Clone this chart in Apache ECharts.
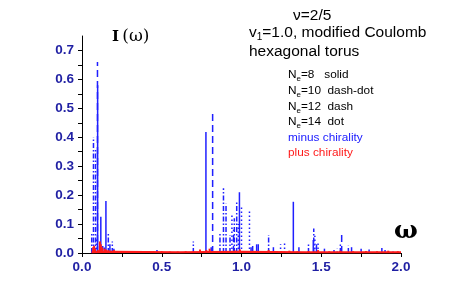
<!DOCTYPE html>
<html><head><meta charset="utf-8">
<script src="https://cdn.jsdelivr.net/npm/echarts@6/dist/echarts.min.js"></script>
<style>html,body{margin:0;padding:0;background:#fff}#c{width:467px;height:305px}</style>
</head><body><div id="c"></div>
<script>
// tick labels
const xTickLabels = [0, 0.5, 1.0, 1.5, 2.0];
const yTickLabels = [0, 0.1, 0.2, 0.3, 0.4, 0.5, 0.6, 0.7];
const yMinorTicks = [0, 0.05, 0.1, 0.15, 0.2, 0.25, 0.3, 0.35, 0.4, 0.45, 0.5, 0.55, 0.6, 0.65, 0.7];

// minus chirality (blue)
const ne8Omega  = [0.098, 0.118, 0.15, 0.175, 0.2, 0.47, 0.777, 0.987, 1.06, 1.095, 1.105, 1.325, 1.36, 1.45, 1.47, 1.52, 1.58, 1.69, 1.8, 1.9];
const ne8Minus  = [0.58, 0.125, 0.18, 0.03, 0.015, 0.01, 0.418, 0.21, 0.02, 0.03, 0.03, 0.177, 0.02, 0.045, 0.03, 0.015, 0.01, 0.02, 0.012, 0.01];
const ne10Omega = [0.061, 0.072, 0.085, 0.165, 0.19, 0.698, 0.865, 0.887, 0.903, 0.928, 0.955, 0.97, 1.17, 1.42, 1.453, 1.62, 1.67, 1.88];
const ne10Minus = [0.073, 0.40, 0.36, 0.07, 0.04, 0.04, 0.069, 0.224, 0.17, 0.062, 0.12, 0.18, 0.062, 0.03, 0.085, 0.03, 0.025, 0.02];
const ne12Omega = [0.097, 0.13, 0.81, 0.819, 0.95, 1.07, 1.2, 1.628, 1.75];
const ne12Minus = [0.66, 0.03, 0.02, 0.48, 0.08, 0.03, 0.02, 0.068, 0.015];
const ne14Omega = [0.09, 0.14, 0.94, 0.98, 1.0, 1.05, 1.245, 1.27, 1.46, 1.48, 1.6, 1.95];
const ne14Minus = [0.05, 0.02, 0.13, 0.10, 0.16, 0.148, 0.03, 0.035, 0.06, 0.04, 0.015, 0.01];

// plus chirality (red)
const plusOmega = [0.07,0.076,0.082,0.1,0.112,0.118,0.125,0.14,0.15,0.165,0.18,0.2,0.23,0.26,0.3,0.35,0.4,0.45,0.5,0.55,0.6,0.65,0.7,0.74,0.78,0.8,0.85,0.9,0.96,0.99,1.05,1.1,1.17,1.25,1.3,1.35,1.42,1.48,1.55,1.62,1.7,1.78,1.85,1.92,1.98];
const plusValue = [0.02,0.025,0.015,0.01,0.04,0.03,0.02,0.015,0.012,0.01,0.008,0.01,0.006,0.007,0.006,0.005,0.006,0.005,0.006,0.005,0.005,0.006,0.005,0.012,0.01,0.015,0.006,0.007,0.008,0.012,0.006,0.007,0.01,0.006,0.008,0.006,0.007,0.01,0.006,0.008,0.006,0.007,0.006,0.008,0.006];
const plusFloorOmega = [0.06, 0.2, 0.6, 1.0, 1.4, 2.0];
const plusFloorValue = [0.003, 0.004, 0.003, 0.004, 0.003, 0.003];

const BLUE = '#1f1fff', RED = '#ff1a1a', LABEL = '#1f1fa3';
const pairs = (xs, ys) => xs.map((x, i) => [x, ys[i]]);

function stickSeries(name, xs, ys, color, dash, width) {
  return {
    type: 'custom', name, z: name.startsWith('plus') ? 3 : 2,
    data: pairs(xs, ys),
    renderItem: (params, api) => {
      const w = api.value(0), v = api.value(1);
      const p0 = api.coord([w, 0]), p1 = api.coord([w, v]);
      return { type: 'line', shape: { x1: p0[0], y1: p0[1], x2: p1[0], y2: p1[1] },
        style: { stroke: color, lineWidth: width, lineDash: dash, fill: null } };
    }
  };
}

const chart = echarts.init(document.getElementById('c'), null, { renderer: 'canvas' });
const txt = (x, y, text, size, color, extra) => ({
  type: 'text', x, y, silent: true,
  style: Object.assign({ text, fontSize: size, fontFamily: '"Liberation Sans", Arial, sans-serif', fill: color || '#000', align: 'left', verticalAlign: 'middle' }, extra || {})
});
const legendRich = {
  a: { fontSize: 11.8, fontFamily: '"Liberation Sans", Arial, sans-serif', lineHeight: 15, fill: '#000' },
  s: { fontSize: 8, fontFamily: '"Liberation Sans", Arial, sans-serif', lineHeight: 8, verticalAlign: 'bottom', fill: '#000' }
};

chart.setOption({
  animation: false,
  backgroundColor: '#fff',
  grid: { left: 82, top: 36, width: 319, height: 217, containLabel: false },
  xAxis: {
    type: 'value', min: 0, max: 2, interval: 0.25,
    axisLine: { show: true, lineStyle: { color: '#000', width: 1 } },
    axisTick: { show: true, length: 4, lineStyle: { color: '#000' } },
    axisLabel: { margin: 7, color: LABEL, fontSize: 13.5, fontWeight: 'bold', fontFamily: '"Liberation Sans", Arial, sans-serif',
      customValues: xTickLabels, formatter: v => v.toFixed(1) },
    splitLine: { show: false }
  },
  yAxis: {
    type: 'value', min: 0, max: 0.75, interval: 0.05,
    axisLine: { show: true, lineStyle: { color: '#000', width: 1 } },
    axisTick: { show: true, length: 4, lineStyle: { color: '#000' }, customValues: yMinorTicks },
    axisLabel: { margin: 8, color: LABEL, fontSize: 13.5, fontWeight: 'bold', fontFamily: '"Liberation Sans", Arial, sans-serif',
      customValues: yTickLabels, formatter: v => v.toFixed(1) },
    splitLine: { show: false }
  },
  series: [
    stickSeries('ne8', ne8Omega, ne8Minus, BLUE, null, 1.5),
    stickSeries('ne10', ne10Omega, ne10Minus, BLUE, [5, 2, 1.5, 2], 1.5),
    stickSeries('ne12', ne12Omega, ne12Minus, BLUE, [7, 4], 1.5),
    stickSeries('ne14', ne14Omega, ne14Minus, BLUE, [1.5, 2.5], 1.5),
    stickSeries('plus', plusOmega, plusValue, RED, null, 2),
    { type: 'line', name: 'plusFloor', data: pairs(plusFloorOmega, plusFloorValue), showSymbol: false, symbol: 'none',
      lineStyle: { color: RED, width: 2 }, z: 3, silent: true }
  ],
  graphic: [
    { type: 'text', x: 112, y: 37, silent: true, style: { text: '{i|I} {w|(ω)}', verticalAlign: 'middle', align: 'left',
      rich: { i: { fontSize: 15, fontWeight: 'bold', fontFamily: '"DejaVu Serif", serif', fill: '#000' },
              w: { fontSize: 17, fontFamily: '"DejaVu Serif", serif', fill: '#000' } } } },
    { type: 'text', x: 406, y: 231, silent: true, style: { text: 'ω', fontSize: 25, fontWeight: 'bold', fontFamily: '"DejaVu Serif", serif', fill: '#000', align: 'center', verticalAlign: 'middle' } },
    txt(293, 16, 'ν=2/5', 15.5),
    { type: 'text', x: 249, y: 33, silent: true, style: { text: '{a|v}{s|1}{a|=1.0, modified Coulomb}', align: 'left', verticalAlign: 'middle',
      rich: { a: { fontSize: 15.5, fontFamily: '"Liberation Sans", Arial, sans-serif', lineHeight: 19, fill: '#000' },
              s: { fontSize: 10, fontFamily: '"Liberation Sans", Arial, sans-serif', lineHeight: 10, verticalAlign: 'bottom', fill: '#000' } } } },
    txt(249, 52, 'hexagonal torus', 15.5),
    { type: 'text', x: 288, y: 75, silent: true, style: { text: '{a|N}{s|e}{a|=8   solid}', align: 'left', verticalAlign: 'middle', rich: legendRich } },
    { type: 'text', x: 288, y: 91, silent: true, style: { text: '{a|N}{s|e}{a|=10  dash-dot}', align: 'left', verticalAlign: 'middle', rich: legendRich } },
    { type: 'text', x: 288, y: 107, silent: true, style: { text: '{a|N}{s|e}{a|=12  dash}', align: 'left', verticalAlign: 'middle', rich: legendRich } },
    { type: 'text', x: 288, y: 122, silent: true, style: { text: '{a|N}{s|e}{a|=14  dot}', align: 'left', verticalAlign: 'middle', rich: legendRich } },
    txt(288, 138, 'minus chirality', 11.8, '#2020ff'),
    txt(288, 153, 'plus chirality', 11.8, '#ff1a1a')
  ]
});
</script></body></html>
